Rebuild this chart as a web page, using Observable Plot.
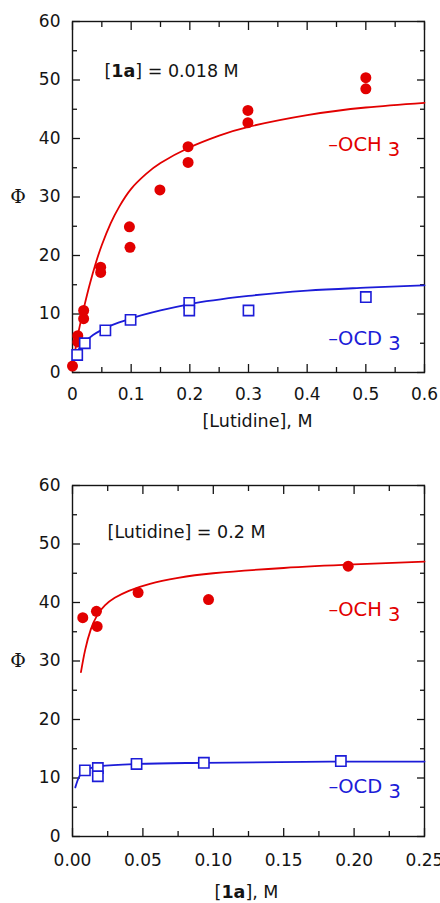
<!DOCTYPE html>
<html><head><meta charset="utf-8">
<script src="https://cdn.jsdelivr.net/npm/d3@7"></script>
<script src="https://cdn.jsdelivr.net/npm/@observablehq/plot@0.6"></script>
<style>
html,body{margin:0;padding:0;background:#fff;}
svg{display:block;}
</style></head><body><div id="chart"></div>
<script>
// ---------- Panel 1: Φ vs [Lutidine], [1a] = 0.018 M ----------
const p1OCH3x = [0, 0.009, 0.009, 0.019, 0.019, 0.048, 0.048, 0.097, 0.098, 0.149, 0.197, 0.197, 0.299, 0.299, 0.5, 0.5];
const p1OCH3y = [1.1, 6.3, 5.2, 10.6, 9.2, 18.0, 17.1, 24.9, 21.4, 31.2, 38.6, 35.9, 44.8, 42.7, 50.4, 48.5];
const p1OCD3x = [0.008, 0.021, 0.056, 0.099, 0.199, 0.199, 0.3, 0.5];
const p1OCD3y = [3.0, 5.0, 7.2, 9.0, 11.9, 10.6, 10.6, 12.9];
const p1FitHx = [0.003, 0.01, 0.02, 0.03, 0.04, 0.05, 0.065, 0.08, 0.1, 0.125, 0.15, 0.2, 0.25, 0.3, 0.4, 0.5, 0.6];
const p1FitHy = [2.8, 6.8, 11.3, 15.3, 18.8, 21.8, 25.5, 28.4, 31.4, 33.9, 35.8, 38.5, 40.5, 42.0, 44.0, 45.3, 46.1];
const p1FitDx = [0.002, 0.01, 0.02, 0.035, 0.05, 0.075, 0.1, 0.15, 0.2, 0.3, 0.4, 0.5, 0.6];
const p1FitDy = [2.6, 3.9, 5.1, 6.4, 7.3, 8.4, 9.25, 10.6, 11.7, 13.1, 14.0, 14.5, 14.9];
const p1XTicks = [0, 0.1, 0.2, 0.3, 0.4, 0.5, 0.6];
const p1XTickLabels = ["0", "0.1", "0.2", "0.3", "0.4", "0.5", "0.6"];
const p1XMinor = [0.05, 0.15, 0.25, 0.35, 0.45, 0.55];
const p1Note = "[1a] = 0.018 M";
const p1XLabel = "[Lutidine], M";

// ---------- Panel 2: Φ vs [1a], [Lutidine] = 0.2 M ----------
const p2OCH3x = [0.0073, 0.017, 0.0175, 0.0466, 0.0966, 0.1958];
const p2OCH3y = [37.4, 38.5, 35.9, 41.7, 40.5, 46.2];
const p2OCD3x = [0.0088, 0.018, 0.018, 0.0455, 0.0933, 0.1906];
const p2OCD3y = [11.3, 11.7, 10.3, 12.4, 12.6, 12.9];
const p2FitHx = [0.006, 0.009, 0.013, 0.0175, 0.023, 0.03, 0.04, 0.055, 0.075, 0.1, 0.15, 0.2, 0.25];
const p2FitHy = [28.1, 31.9, 35.4, 37.8, 39.5, 40.8, 42.0, 43.2, 44.2, 45.0, 45.9, 46.5, 47.0];
const p2FitDx = [0.002, 0.0045, 0.0062, 0.0092, 0.0187, 0.046, 0.0933, 0.19, 0.25];
const p2FitDy = [8.4, 10.1, 10.7, 11.3, 12.0, 12.4, 12.6, 12.8, 12.8];
const p2XTicks = [0, 0.05, 0.1, 0.15, 0.2, 0.25];
const p2XTickLabels = ["0.00", "0.05", "0.10", "0.15", "0.20", "0.25"];
const p2XMinor = [0.025, 0.075, 0.125, 0.175, 0.225];
const p2Note = "[Lutidine] = 0.2 M";
const p2XLabel = "[1a], M";

// ---------- shared y axis ----------
const yTicks = [0, 10, 20, 30, 40, 50, 60];
const yTickLabels = ["0", "10", "20", "30", "40", "50", "60"];
const yMinor = [5, 15, 25, 35, 45, 55];
const yLabel = "Φ";
const labelH = "–OCH 3";
const labelD = "–OCD 3";

const RED = "#e20000";
const BLUE = "#1c1cd8";
const INK = "#141414";

const zip = (xs, ys) => xs.map((x, i) => ({x, y: ys[i]}));

function panel(o) {
  const xFmt = new Map(o.xTicks.map((t, i) => [t, o.xTickLabels[i]]));
  const yFmt = new Map(yTicks.map((t, i) => [t, yTickLabels[i]]));
  const tick = (anchor, data, size, isY) => (isY ? Plot.axisY : Plot.axisX)(data, {
    anchor, tickSize: -size, fill: "none", stroke: INK, strokeWidth: 1.3
  });
  return Plot.plot({
    width: 440, height: o.height,
    marginLeft: 72, marginRight: 16, marginTop: o.mt, marginBottom: o.mb,
    x: {domain: o.xDomain, label: null},
    y: {domain: [0, 60], label: null},
    style: {fontFamily: "DejaVu Sans, sans-serif", fontSize: "17px", color: INK, background: "white"},
    marks: [
      Plot.frame({stroke: INK, strokeWidth: 1.4}),
      tick("bottom", o.xTicks, 8), tick("top", o.xTicks, 8),
      tick("bottom", o.xMinor, 5), tick("top", o.xMinor, 5),
      tick("left", yTicks, 8, true), tick("right", yTicks, 8, true),
      tick("left", yMinor, 5, true), tick("right", yMinor, 5, true),
      Plot.axisX(o.xTicks, {anchor: "bottom", tickSize: 0, tickPadding: o.xPad, tickFormat: d => xFmt.get(d), fill: INK}),
      Plot.axisY(yTicks, {anchor: "left", tickSize: 0, tickPadding: 12, tickFormat: d => yFmt.get(d), fill: INK}),
      Plot.text([yLabel], {y: () => 30, frameAnchor: "left", dx: -54.5, textAnchor: "middle",
        fontFamily: "DejaVu Serif, serif", fontSize: 19, fill: INK}),
      Plot.text([o.xLabel], {frameAnchor: "bottom", dy: o.xLabelDy, dx: o.xLabelDx, lineAnchor: "middle", fill: INK, fontSize: 17.5}),
      Plot.text([o.note], {x: () => o.noteX, y: () => o.noteY, textAnchor: "start", lineAnchor: "middle", fill: INK, fontSize: 17.5}),
      Plot.line(zip(o.fitHx, o.fitHy), {x: "x", y: "y", stroke: RED, strokeWidth: 1.8, curve: "natural"}),
      Plot.dot(zip(o.hx, o.hy), {x: "x", y: "y", r: 5.5, fill: RED, stroke: "none"}),
      Plot.line(zip(o.fitDx, o.fitDy), {x: "x", y: "y", stroke: BLUE, strokeWidth: 1.8, curve: "monotone-x"}),
      Plot.dot(zip(o.dx, o.dy), {x: "x", y: "y", r: 5.8, symbol: "square", fill: "white", stroke: BLUE, strokeWidth: 1.6}),
      Plot.text([labelH], {x: () => o.labX, y: () => o.labHY, textAnchor: "start", lineAnchor: "middle", fill: RED, fontSize: 19.5}),
      Plot.text([labelD], {x: () => o.labX, y: () => o.labDY, textAnchor: "start", lineAnchor: "middle", fill: BLUE, fontSize: 19.5})
    ]
  });
}

function decorate(svg) {
  d3.select(svg).selectAll("text").each(function () {
    const t = this.textContent;
    const sel = d3.select(this);
    if (t.includes("1a") && !this.querySelector("tspan")) {
      const i = t.indexOf("1a");
      sel.text(null);
      sel.append("tspan").text(t.slice(0, i));
      sel.append("tspan").attr("font-weight", "bold").text("1a");
      sel.append("tspan").text(t.slice(i + 2));
    } else if (/^–OC[HD] 3$/.test(t)) {
      sel.text(null);
      sel.append("tspan").text(t.slice(0, 5));
      sel.append("tspan").attr("dy", 5).text(t.slice(5));
    }
  });
  return svg;
}

const s1 = panel({
  height: 450, mt: 21, mb: 78, xDomain: [0, 0.6],
  xTicks: p1XTicks, xTickLabels: p1XTickLabels, xMinor: p1XMinor, xPad: 15,
  xLabel: p1XLabel, xLabelDy: 49, xLabelDx: 9,
  note: p1Note, noteX: 0.0545, noteY: 51.45,
  hx: p1OCH3x, hy: p1OCH3y, dx: p1OCD3x, dy: p1OCD3y,
  fitHx: p1FitHx, fitHy: p1FitHy, fitDx: p1FitDx, fitDy: p1FitDy,
  labX: 0.436, labHY: 39.0, labDY: 5.8
});
const s2 = panel({
  height: 453, mt: 35, mb: 67, xDomain: [0, 0.25],
  xTicks: p2XTicks, xTickLabels: p2XTickLabels, xMinor: p2XMinor, xPad: 17,
  xLabel: p2XLabel, xLabelDy: 56, xLabelDx: -2,
  note: p2Note, noteX: 0.0249, noteY: 52.0,
  hx: p2OCH3x, hy: p2OCH3y, dx: p2OCD3x, dy: p2OCD3y,
  fitHx: p2FitHx, fitHy: p2FitHy, fitDx: p2FitDx, fitDy: p2FitDy,
  labX: 0.1818, labHY: 38.7, labDY: 8.5
});
const root = document.getElementById("chart");
root.append(decorate(s1), decorate(s2));
</script></body></html>
